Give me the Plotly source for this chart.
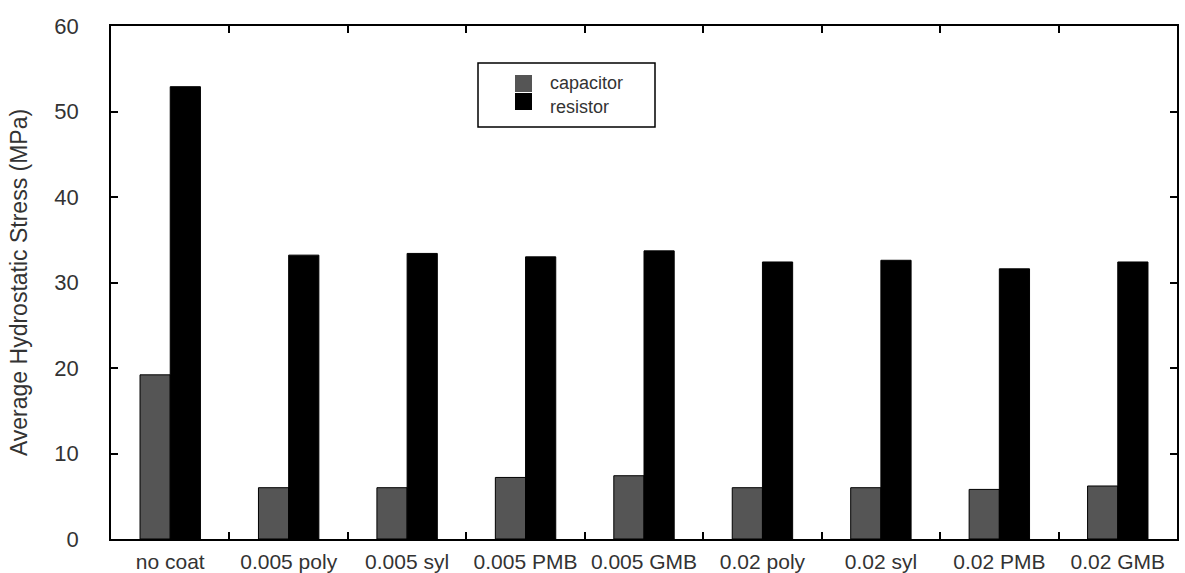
import plotly.graph_objects as go

# Coating configurations along the x axis
categories = ["no coat", "0.005 poly", "0.005 syl", "0.005 PMB", "0.005 GMB",
              "0.02 poly", "0.02 syl", "0.02 PMB", "0.02 GMB"]

# Average hydrostatic stress (MPa) per component
capacitor = [19.2, 6.0, 6.0, 7.2, 7.4, 6.0, 6.0, 5.8, 6.2]
resistor = [52.9, 33.2, 33.4, 33.0, 33.7, 32.4, 32.6, 31.6, 32.4]

y_ticks = [0, 10, 20, 30, 40, 50, 60]

CAP_COLOR = "#555555"
RES_COLOR = "#000000"
TEXT_COLOR = "#333333"
FONT = "Liberation Sans, Arial, sans-serif"

fig = go.Figure()
fig.add_trace(go.Bar(x=categories, y=capacitor, name="capacitor",
                     marker=dict(color=CAP_COLOR, line=dict(color="#000000", width=1))))
fig.add_trace(go.Bar(x=categories, y=resistor, name="resistor",
                     marker=dict(color=RES_COLOR, line=dict(color="#000000", width=1))))

W, H = 1185, 573
ml, mr, mt, mb = 111, 8, 26, 34
pw, ph = W - ml - mr, H - mt - mb


def px_x(x):
    return (x - ml) / pw


def px_y(y):
    return (H - mb - y) / ph


# Legend box drawn in paper coordinates
shapes = [
    dict(type="rect", xref="paper", yref="paper",
         x0=px_x(478), x1=px_x(655), y0=px_y(127), y1=px_y(63),
         line=dict(color="#000000", width=1.5), fillcolor="white"),
    dict(type="rect", xref="paper", yref="paper",
         x0=px_x(515), x1=px_x(532), y0=px_y(92), y1=px_y(75),
         line=dict(width=0), fillcolor=CAP_COLOR),
    dict(type="rect", xref="paper", yref="paper",
         x0=px_x(515), x1=px_x(532), y0=px_y(110), y1=px_y(93),
         line=dict(width=0), fillcolor=RES_COLOR),
]
annotations = [
    dict(text="capacitor", xref="paper", yref="paper", x=px_x(548), y=px_y(83.5),
         xanchor="left", yanchor="middle", showarrow=False,
         font=dict(family=FONT, size=18, color=TEXT_COLOR)),
    dict(text="resistor", xref="paper", yref="paper", x=px_x(548), y=px_y(106.5),
         xanchor="left", yanchor="middle", showarrow=False,
         font=dict(family=FONT, size=18, color=TEXT_COLOR)),
]

fig.update_layout(
    width=W, height=H,
    margin=dict(l=ml, r=mr, t=mt, b=mb, autoexpand=False),
    paper_bgcolor="white", plot_bgcolor="white",
    barmode="group", bargap=0.49, bargroupgap=0,
    showlegend=False,
    font=dict(family=FONT, size=19, color=TEXT_COLOR),
    shapes=shapes, annotations=annotations,
)
fig.update_xaxes(
    type="category", tickson="boundaries", ticks="inside", ticklen=7,
    tickcolor="#000000", tickwidth=1.5,
    showline=True, linecolor="#000000", linewidth=1.5, mirror="ticks",
    showgrid=False, zeroline=False, ticklabelstandoff=3,
    tickfont=dict(size=21, color=TEXT_COLOR),
)
fig.update_yaxes(
    range=[0, 60], tickvals=y_ticks, ticks="inside", ticklen=7,
    tickcolor="#000000", tickwidth=1.5,
    showline=True, linecolor="#000000", linewidth=1.5, mirror="ticks",
    showgrid=False, zeroline=False, ticklabelstandoff=26,
    tickfont=dict(size=22, color=TEXT_COLOR),
    title=dict(text="Average Hydrostatic Stress (MPa)", standoff=20,
               font=dict(size=23, color=TEXT_COLOR)),
    automargin=False,
)

fig.write_html("out.html")
